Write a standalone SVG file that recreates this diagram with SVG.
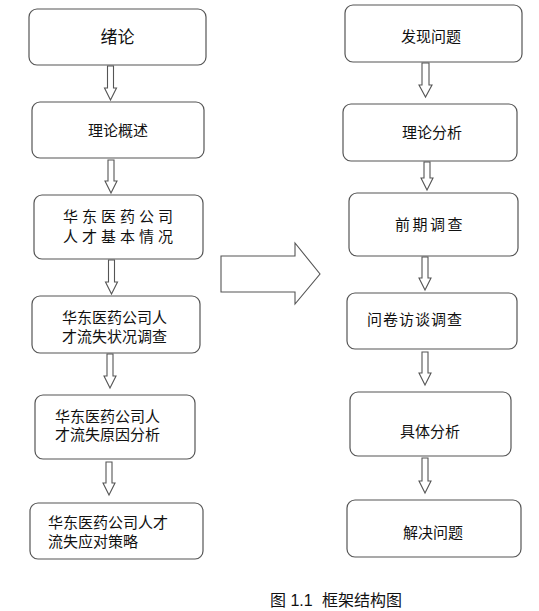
<svg xmlns="http://www.w3.org/2000/svg" width="539" height="611" viewBox="0 0 539 611">
<style>
.box{fill:#fff;stroke:#555;stroke-width:1.2}
.arr{fill:#fff;stroke:#555;stroke-width:1.1;stroke-linejoin:miter}
text{font-family:"Liberation Sans","Noto Sans CJK SC",sans-serif;font-size:15px;fill:#111}
.c{text-anchor:middle}
</style>
<rect width="539" height="611" fill="#fff"/>
<g id="connectors">
<path class="arr" d="M107.5 66V88H104.5L110.5 100L116.5 88H113.5V66Z"/>
<path class="arr" d="M108 160V181H105L111 193L117 181H114V160Z"/>
<path class="arr" d="M108.5 260V282H105.5L111.5 294L117.5 282H114.5V260Z"/>
<path class="arr" d="M107 354V376H104L110 388L116 376H113V354Z"/>
<path class="arr" d="M106 462V483H103L109 495L115 483H112V462Z"/>
<path class="arr" d="M422 63V85H419L425.5 97L432 85H429V63Z"/>
<path class="arr" d="M424 162V178H421L427 190L433 178H430V162Z"/>
<path class="arr" d="M422 257V278H419L425 290L431 278H428V257Z"/>
<path class="arr" d="M422 352V373H419L425 385L431 373H428V352Z"/>
<path class="arr" d="M422 458V481H419L425 493L431 481H428V458Z"/>
<path class="arr" d="M221 256H295V243L320 274L295 304V292H221Z"/>
</g>
<g id="n1"><rect class="box" x="29" y="9" width="177" height="56" rx="8"/><text class="c" x="117.5" y="43" style="font-size:17px">绪论</text></g>
<g id="n2"><rect class="box" x="32" y="102" width="172" height="56" rx="8"/><text class="c" x="118" y="136">理论概述</text></g>
<g id="n3"><rect class="box" x="34" y="195" width="169" height="64" rx="8"/><text x="63" y="222" style="letter-spacing:4px">华东医药公司</text><text x="63" y="242" style="letter-spacing:4px">人才基本情况</text></g>
<g id="n4"><rect class="box" x="32" y="296" width="168" height="57" rx="8"/><text x="62" y="323">华东医药公司人</text><text x="62" y="342">才流失状况调查</text></g>
<g id="n5"><rect class="box" x="35" y="395" width="160" height="64" rx="8"/><text x="55" y="422">华东医药公司人</text><text x="55" y="440">才流失原因分析</text></g>
<g id="n6"><rect class="box" x="30" y="503" width="173" height="56" rx="8"/><text x="48" y="528">华东医药公司人才</text><text x="48" y="547">流失应对策略</text></g>
<g id="m1"><rect class="box" x="345" y="5" width="177" height="57" rx="8"/><text class="c" x="431" y="42">发现问题</text></g>
<g id="m2"><rect class="box" x="343" y="104" width="174" height="57" rx="8"/><text class="c" x="432" y="138">理论分析</text></g>
<g id="m3"><rect class="box" x="349" y="193" width="169" height="63" rx="8"/><text class="c" x="430" y="230" style="letter-spacing:2.5px">前期调查</text></g>
<g id="m4"><rect class="box" x="347" y="293" width="170" height="56" rx="8"/><text x="367" y="325" style="letter-spacing:1px">问卷访谈调查</text></g>
<g id="m5"><rect class="box" x="350" y="392" width="161" height="64" rx="8"/><text class="c" x="430" y="437">具体分析</text></g>
<g id="m6"><rect class="box" x="347" y="500" width="174" height="57" rx="8"/><text class="c" x="433" y="538">解决问题</text></g>
<text x="270" y="606" style="font-size:16px">图 1.1<tspan x="322">框架结构图</tspan></text>
</svg>
